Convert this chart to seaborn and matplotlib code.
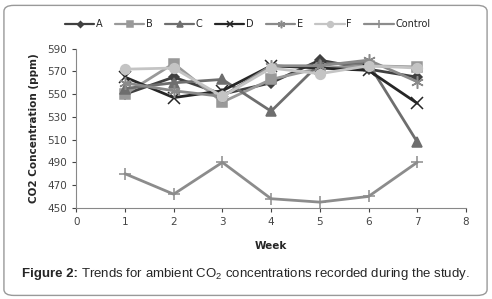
import pandas as pd
import seaborn as sns
import matplotlib.pyplot as plt
from matplotlib.patches import FancyBboxPatch

# values
weeks = [1, 2, 3, 4, 5, 6, 7]
series_a = [550, 565, 550, 560, 580, 572, 565]
series_b = [550, 577, 543, 563, 573, 575, 574]
series_c = [555, 560, 563, 535, 577, 577, 508]
series_d = [565, 547, 553, 575, 573, 571, 542]
series_e = [560, 553, 548, 575, 575, 580, 561]
series_f = [572, 573, 548, 573, 568, 575, 573]
control = [480, 462, 490, 458, 455, 460, 490]

names = ['A', 'B', 'C', 'D', 'E', 'F', 'Control']
values = [series_a, series_b, series_c, series_d, series_e, series_f, control]

rows = []
for name, vals in zip(names, values):
    for w, v in zip(weeks, vals):
        rows.append({'Week': w, 'CO2': v, 'Site': name})
df = pd.DataFrame(rows)

palette = {'A': '#404040', 'B': '#999999', 'C': '#6e6e6e', 'D': '#262626',
           'E': '#8a8a8a', 'F': '#c4c4c4', 'Control': '#8c8c8c'}
markers = {'A': 'D', 'B': 's', 'C': '^', 'D': 'x', 'E': (6, 2, 0), 'F': 'o', 'Control': '+'}
sizes = {'A': 5, 'B': 7, 'C': 7, 'D': 8, 'E': 9, 'F': 7, 'Control': 9}

sns.set_style('white')
plt.rcParams['font.family'] = ['DejaVu Sans']
plt.rcParams['mathtext.fontset'] = 'custom'
plt.rcParams['mathtext.rm'] = 'Liberation Sans'

fig = plt.figure(figsize=(4.92, 2.99), dpi=100)
ax = fig.add_axes([0.155, 0.305, 0.792, 0.532])

for name in names:
    sub = df[df['Site'] == name]
    sns.lineplot(data=sub, x='Week', y='CO2', ax=ax, color=palette[name],
                 marker=markers[name], markersize=sizes[name], linewidth=2.0,
                 markeredgecolor=palette[name], markeredgewidth=1.1, label=name)

ax.set_xlim(0, 8)
ax.set_ylim(450, 590)
ax.set_xticks(range(0, 9))
ax.set_yticks(range(450, 591, 20))
ax.tick_params(axis='both', labelsize=7.5, colors='#444444', direction='out',
               length=3, width=0.8, bottom=True, left=True)
for s in ['top', 'right']:
    ax.spines[s].set_visible(False)
for s in ['left', 'bottom']:
    ax.spines[s].set_color('#888888')
    ax.spines[s].set_linewidth(0.8)

ax.set_xlabel('Week', fontsize=7.5, fontweight='bold', labelpad=10)
ax.set_ylabel('CO2 Concentration (ppm)', fontsize=7.5, fontweight='bold', labelpad=6)

leg = ax.legend(loc='lower center', bbox_to_anchor=(0.44, 1.1), ncol=7, frameon=False,
                fontsize=7, handlelength=3.0, columnspacing=1.3, handletextpad=0.15,
                markerscale=0.6, borderaxespad=0)
for line in leg.get_lines():
    line.set_linewidth(1.6)

# rounded frame around the whole figure
frame = FancyBboxPatch((0.008, 0.012), 0.982, 0.97, boxstyle='round,pad=0,rounding_size=0.02',
                       transform=fig.transFigure, fill=False, edgecolor='#999999',
                       linewidth=1.0)
fig.patches.append(frame)

# caption: bold part and normal part, placed side by side and centred
renderer = fig.canvas.get_renderer()
t1 = fig.text(0, 0.085, 'Figure 2: ', ha='left', va='center', fontsize=9.5,
              family='Liberation Sans', fontweight='bold')
t2 = fig.text(0, 0.085, r'Trends for ambient CO$_\mathregular{2}$ concentrations recorded during the study.',
              ha='left', va='center', fontsize=9.5, family='Liberation Sans')
w1 = t1.get_window_extent(renderer).width
w2 = t2.get_window_extent(renderer).width
figw = fig.bbox.width
x0 = (figw - w1 - w2) / 2 / figw
t1.set_x(x0)
t2.set_x(x0 + w1 / figw)

fig.savefig('out.png', dpi=100)
